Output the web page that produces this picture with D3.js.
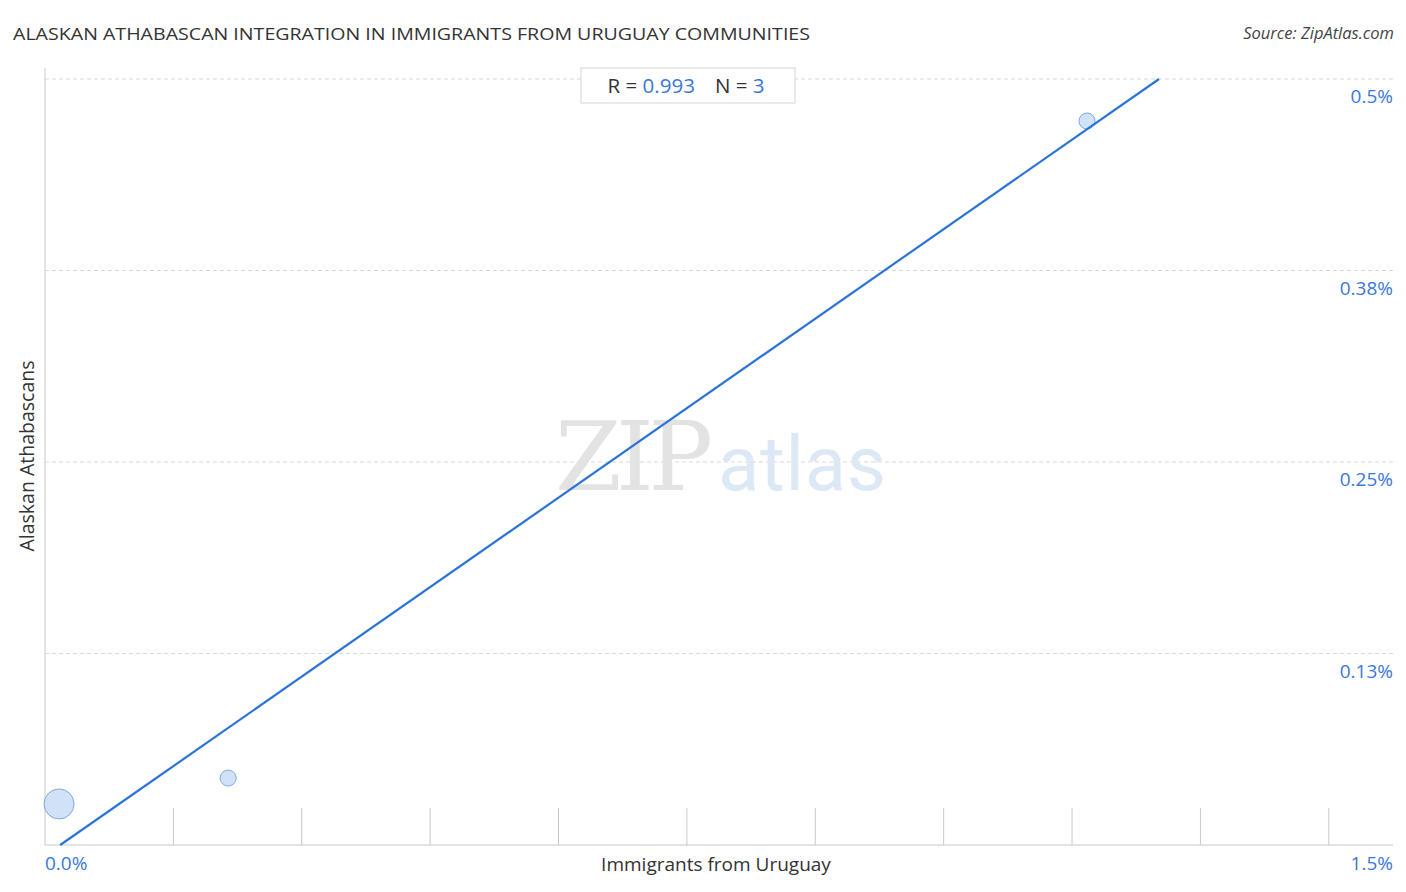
<!DOCTYPE html>
<html><head><meta charset="utf-8">
<script src="https://cdn.jsdelivr.net/npm/d3@7"></script>
<style>
body{margin:0;background:#fff;}
svg{display:block;font-family:"Open Sans", Roboto, sans-serif;}
</style></head>
<body><svg id="c" width="1406" height="892"></svg>
<script>
const title = "ALASKAN ATHABASCAN INTEGRATION IN IMMIGRANTS FROM URUGUAY COMMUNITIES";
const source = "Source: ZipAtlas.com";
const xLabel = "Immigrants from Uruguay";
const yLabel = "Alaskan Athabascans";
const xValues = [0.0164, 0.214, 1.2175];
const yValues = [0.0268, 0.0437, 0.4726];
const sizes = [15, 8, 8];
const yTicks = [0.125, 0.25, 0.375, 0.5];
const yTickLabels = ["0.13%", "0.25%", "0.38%", "0.5%"];
const xTicks = [0.15, 0.3, 0.45, 0.6, 0.75, 0.9, 1.05, 1.2, 1.35, 1.5];
const xEndLabels = ["0.0%", "1.5%"];

const svg = d3.select("#c");
const L = 45, R = 1393, T = 68, B = 845;
const x = d3.scaleLinear().domain([0, 1.575]).range([L, R]);
const y = d3.scaleLinear().domain([0, 0.5]).range([B, 79]);
const blue = "#3b77d9";

// gridlines
svg.append("g").selectAll("line").data(yTicks).join("line")
  .attr("x1", L).attr("x2", R).attr("y1", d => y(d)).attr("y2", d => y(d))
  .attr("stroke", "#d9d9d9").attr("stroke-dasharray", "4,3").attr("stroke-width", 1);

// watermark
svg.append("text").attr("x", 555).attr("y", 490).attr("font-family", "DejaVu Serif, serif")
  .attr("font-size", 96).attr("fill", "#e3e3e3").attr("textLength", 158).text("ZIP");
svg.append("text").attr("x", 718).attr("y", 490).attr("font-family", "Roboto, sans-serif")
  .attr("font-size", 76).attr("fill", "#dde8f7").attr("textLength", 168).text("atlas");

// axes
svg.append("line").attr("x1", L).attr("x2", L).attr("y1", T).attr("y2", B).attr("stroke", "#c8c8c8");
svg.append("line").attr("x1", L).attr("x2", R).attr("y1", B).attr("y2", B).attr("stroke", "#c8c8c8");
svg.append("g").selectAll("line").data(xTicks).join("line")
  .attr("x1", d => x(d)).attr("x2", d => x(d)).attr("y1", B - 37).attr("y2", B)
  .attr("stroke", "#c8c8c8");

// tick labels
svg.append("g").selectAll("text").data(yTicks).join("text")
  .attr("x", R).attr("y", d => y(d) + 24).attr("text-anchor", "end")
  .attr("font-size", 19).attr("fill", blue).text((d, i) => yTickLabels[i]);
svg.append("text").attr("x", L).attr("y", 870).attr("font-size", 19).attr("fill", blue).text(xEndLabels[0]);
svg.append("text").attr("x", R).attr("y", 870).attr("text-anchor", "end").attr("font-size", 19).attr("fill", blue).text(xEndLabels[1]);

// points
const pts = xValues.map((v, i) => ({x: v, y: yValues[i], r: sizes[i]}));
svg.append("g").selectAll("circle").data(pts).join("circle")
  .attr("cx", d => x(d.x)).attr("cy", d => y(d.y)).attr("r", d => d.r)
  .attr("fill", "#c9dcf5").attr("fill-opacity", 0.85).attr("stroke", "#7fa8e6").attr("stroke-width", 1);

// regression
const mx = d3.mean(xValues), my = d3.mean(yValues);
let sxy = 0, sxx = 0, syy = 0;
xValues.forEach((v, i) => { sxy += (v - mx) * (yValues[i] - my); sxx += (v - mx) ** 2; syy += (yValues[i] - my) ** 2; });
const slope = sxy / sxx, icpt = my - slope * mx;
const rVal = sxy / Math.sqrt(sxx * syy);
const x0 = (0 - icpt) / slope, x1 = (0.5 - icpt) / slope;
svg.append("line").attr("x1", x(x0)).attr("y1", y(0)).attr("x2", x(x1)).attr("y2", y(0.5))
  .attr("stroke", "#2a74d9").attr("stroke-width", 2.2);

// stats box
svg.append("rect").attr("x", 581).attr("y", 68).attr("width", 214).attr("height", 35)
  .attr("fill", "#fff").attr("stroke", "#d6d6d6");
const st = svg.append("text").attr("x", 686).attr("y", 93).attr("text-anchor", "middle").attr("font-size", 20.5).attr("fill", "#333");
st.append("tspan").text("R = ");
st.append("tspan").attr("fill", blue).text(rVal.toFixed(3));
st.append("tspan").attr("dx", 20).text("N = ");
st.append("tspan").attr("fill", blue).text(xValues.length);

// titles
svg.append("text").attr("x", 13).attr("y", 40).attr("font-size", 17).attr("fill", "#333")
  .attr("textLength", 797).attr("lengthAdjust", "spacingAndGlyphs").text(title);
svg.append("text").attr("x", 1394).attr("y", 39).attr("text-anchor", "end").attr("font-size", 16.5)
  .attr("font-style", "italic").attr("fill", "#444").text(source);
svg.append("text").attr("x", 716).attr("y", 871).attr("text-anchor", "middle").attr("font-size", 19).attr("fill", "#333").text(xLabel);
svg.append("text").attr("transform", "translate(34,456) rotate(-90)").attr("text-anchor", "middle")
  .attr("font-size", 19.5).attr("fill", "#333").text(yLabel);
</script></body></html>
